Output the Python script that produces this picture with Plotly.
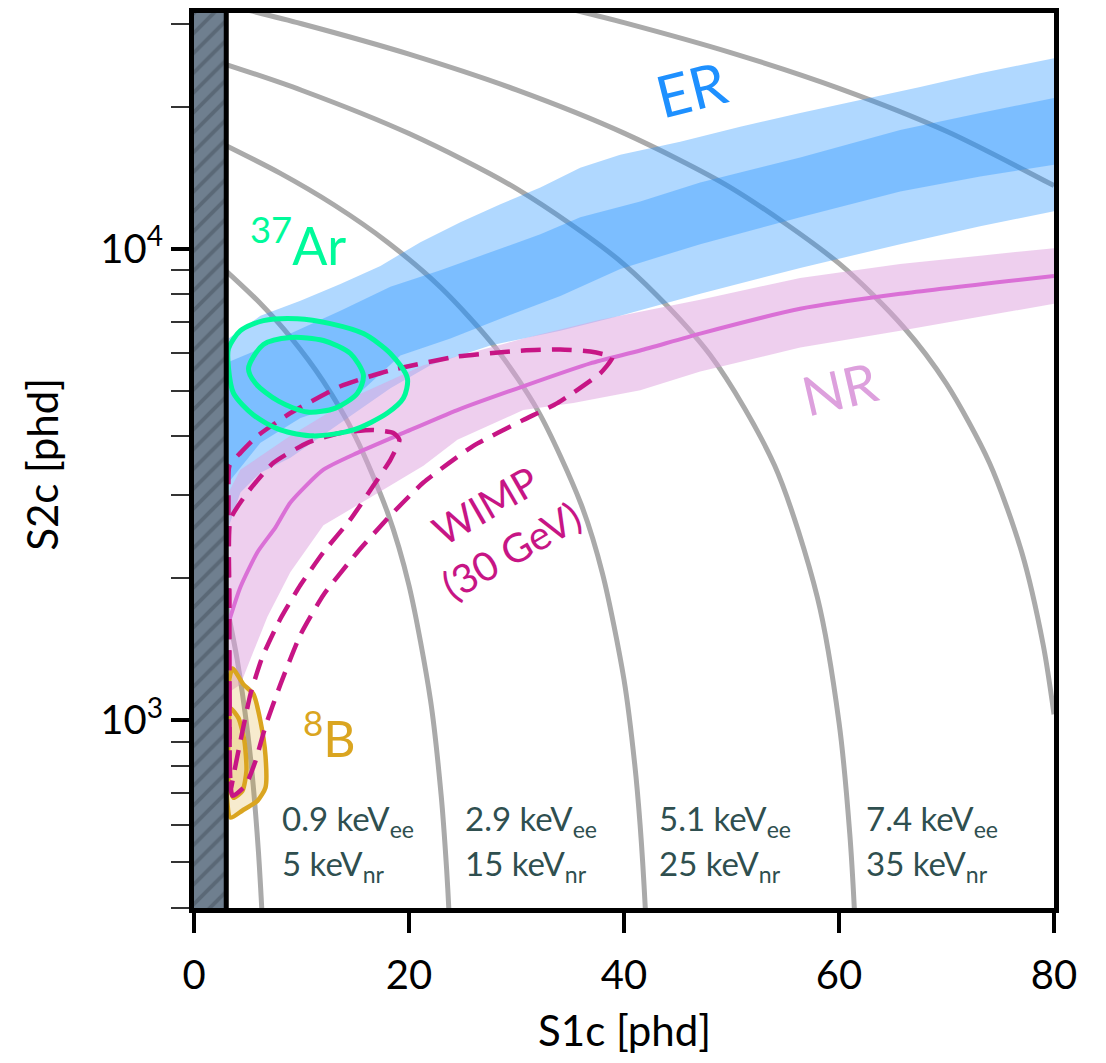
import math
import plotly.graph_objects as go

# ---------------- data ----------------
# constant-energy guide lines (S1c, S2c)
E1_S1 = [3, 4, 5, 5.5, 6, 6.2, 6.3, 6.4]
E1_S2 = [1766, 1352, 938, 731, 524, 441, 400, 358]
E2_S1 = [3, 6, 9, 12, 15, 18, 20, 22, 23, 23.5, 23.7, 24]
E2_S2 = [8970, 7728, 6486, 5244, 4002, 2760, 1932, 1104, 690, 483, 400, 276]
E3_S1 = [3, 8, 13, 18, 23, 28, 32, 36, 38, 40, 41, 41.5, 42, 42.3]
E3_S2 = [16538, 14468, 12398, 10328, 8258, 6188, 4532, 2876, 2048, 1220, 806, 599, 392, 268]
E4_S1 = [3, 10, 20, 30, 40, 48, 54, 58, 60, 61, 61.5, 61.8]
E4_S2 = [24588, 21690, 17550, 13410, 9270, 5958, 3474, 1818, 990, 576, 369, 245]
E5_S1 = [5, 10, 20, 30, 40, 50, 60, 66, 70, 74, 77, 79, 80]
E5_S2 = [32080, 30010, 25870, 21730, 17590, 13450, 9310, 6826, 5170, 3514, 2272, 1444, 1030]
E6_S1 = [35, 40, 50, 60, 70, 80]
E6_S2 = [32240, 30170, 26030, 21890, 17750, 13610]

# ER band: outer (light) and inner (dark)
ER_OUT_UP_S1 = [3.21, 6.18, 9.90, 13.62, 17.34, 21.06, 24.78, 28.50, 32.22, 35.93, 39.65, 45.23, 50.81, 56.39, 61.97, 67.55, 73.13, 80]
ER_OUT_UP_S2 = [6450, 7210, 7755, 8425, 9195, 10330, 11380, 12430, 13490, 14860, 15830, 16870, 18140, 19410, 20680, 22030, 23570, 25350]
ER_OUT_LO_S1 = [3.21, 4.32, 6.18, 8.97, 13.62, 18.27, 21.99, 27.57, 34.08, 39.65, 47.09, 56.39, 65.69, 73.13, 80]
ER_OUT_LO_S2 = [2566, 3041, 3351, 3604, 4272, 5060, 5660, 6235, 6705, 7210, 8025, 9105, 10230, 11160, 12010]
ER_IN_UP_S1 = [3.21, 6.18, 8.97, 13.62, 18.27, 22.92, 27.57, 32.22, 35.93, 41.51, 47.09, 56.39, 65.69, 73.13, 80]
ER_IN_UP_S2 = [5750, 6145, 6610, 7390, 8305, 9010, 9830, 10740, 11660, 12600, 13820, 15610, 17870, 19410, 20870]
ER_IN_LO_S1 = [3.21, 6.18, 9.90, 14.55, 19.20, 23.85, 28.50, 34.08, 39.65, 47.09, 56.39, 65.69, 73.13, 80]
ER_IN_LO_S2 = [3193, 3877, 4376, 4752, 5940, 6450, 7110, 7945, 9065, 10230, 11660, 13230, 14230, 15080]

# NR band and median
NR_UP_S1 = [3.21, 4.32, 8.97, 15.20, 21.34, 30.63, 37.79, 47.09, 56.39, 65.69, 80]
NR_UP_S2 = [3041, 3400, 4011, 4892, 5660, 6450, 7075, 7795, 8675, 9285, 10030]
NR_LO_S1 = [3.21, 3.39, 4.32, 5.53, 6.83, 8.97, 12.04, 18.27, 21.34, 24.50, 30.63, 35.28, 41.51, 47.09, 56.39, 65.69, 80]
NR_LO_S2 = [1152, 1152, 1192, 1399, 1658, 2063, 2591, 3147, 3467, 3934, 4550, 4707, 5012, 5495, 6175, 6705, 7645]
NR_MED_S1 = [3.30, 4.32, 5.90, 7.58, 8.97, 12.04, 15.20, 19.48, 24.50, 30.63, 36.86, 41.51, 47.09, 56.39, 65.69, 80]
NR_MED_S2 = [1634, 1918, 2273, 2566, 2897, 3400, 3692, 4069, 4550, 5110, 5715, 6085, 6610, 7460, 8025, 8760]

# WIMP (30 GeV) contours
WIMP_OUT_S1 = [3.58, 3.30, 3.21, 3.21, 3.30, 4.32, 5.90, 8.97, 13.62, 18.27, 24.50, 30.63, 34.08, 36.86, 38.91, 37.79, 33.80, 30.63, 25.99, 21.34, 18.27, 15.20, 12.04, 9.90, 8.04, 6.65, 5.72, 4.79, 3.58]
WIMP_OUT_S2 = [692, 1098, 1784, 2897, 3467, 3692, 4011, 4484, 5110, 5525, 5910, 6085, 6115, 6055, 5885, 5445, 4707, 4334, 3821, 3193, 2720, 2273, 1845, 1519, 1192, 972, 820, 727, 692]
WIMP_IN_S1 = [3.39, 3.30, 3.30, 3.39, 4.97, 7.39, 10.55, 13.62, 16.69, 18.55, 19.11, 18.27, 16.69, 14.55, 12.04, 9.90, 8.04, 6.37, 5.25, 4.32, 3.67, 3.39]
WIMP_IN_S2 = [709, 1098, 1784, 2667, 3041, 3517, 3877, 4069, 4129, 4069, 3934, 3569, 3147, 2667, 2273, 1936, 1642, 1365, 1136, 904, 763, 709]

# 37Ar contours
AR_OUT_S1 = [3.21, 4.32, 6.46, 9.62, 12.69, 15.76, 18.27, 19.85, 19.48, 17.99, 14.83, 11.11, 8.04, 5.53, 3.67, 3.21, 3.21]
AR_OUT_S2 = [6145, 6705, 7040, 7110, 6940, 6610, 5998, 5315, 4824, 4484, 4129, 4011, 4129, 4440, 4940, 5577, 6145]
AR_IN_S1 = [5.07, 6.46, 8.97, 12.04, 14.55, 15.76, 15.20, 13.16, 10.55, 7.86, 5.72, 5.07]
AR_IN_S2 = [5577, 6265, 6483, 6390, 5998, 5390, 4940, 4594, 4506, 4752, 5185, 5577]

# 8B contours
B8_OUT_S1 = [3.58, 4.60, 5.53, 6.18, 6.65, 6.65, 5.90, 4.51, 3.39, 3.02, 3.02, 3.11, 3.58]
B8_OUT_S2 = [1288, 1192, 1136, 996, 841, 720, 675, 644, 622, 709, 904, 1152, 1288]
B8_IN_S1 = [3.39, 4.14, 4.69, 4.88, 4.51, 3.67, 3.21, 3.21, 3.39]
B8_IN_S2 = [1061, 1011, 904, 782, 709, 685, 744, 926, 1061]

# threshold region
THRESH_S1 = 3.0

# energy labels
EE_LABELS = ["0.9", "2.9", "5.1", "7.4"]
NR_LABELS = ["5", "15", "25", "35"]
LABEL_S1 = [8.04, 25.06, 43.09, 62.34]
LABEL_ROW1_S2 = 612
LABEL_ROW2_S2 = 492

X_TICKS = [0, 20, 40, 60, 80]
Y_TICKS = [1000, 10000]
Y_TICKTEXT = ["10<sup>3</sup>", "10<sup>4</sup>"]
Y_MINOR = [400, 500, 600, 700, 800, 900, 2000, 3000, 4000, 5000, 6000, 7000, 8000, 9000, 20000, 30000]
Y_RANGE = [400, 31623]

FONT = "Lato"

fig = go.Figure()

# energy guide lines
for xs, ys in [(E1_S1, E1_S2), (E2_S1, E2_S2), (E3_S1, E3_S2),
               (E4_S1, E4_S2), (E5_S1, E5_S2), (E6_S1, E6_S2)]:
    fig.add_trace(go.Scatter(x=xs, y=ys, mode="lines",
                             line=dict(color="#aaaaaa", width=5, shape="spline", smoothing=0.8),
                             hoverinfo="skip", showlegend=False))


def band(up_x, up_y, lo_x, lo_y, color):
    fig.add_trace(go.Scatter(x=up_x + lo_x[::-1], y=up_y + lo_y[::-1],
                             mode="lines", fill="toself", fillcolor=color,
                             line=dict(width=0, color=color), hoverinfo="skip",
                             showlegend=False))


band(ER_OUT_UP_S1, ER_OUT_UP_S2, ER_OUT_LO_S1, ER_OUT_LO_S2, "rgba(30,144,255,0.35)")
band(ER_IN_UP_S1, ER_IN_UP_S2, ER_IN_LO_S1, ER_IN_LO_S2, "rgba(30,144,255,0.35)")
band(NR_UP_S1, NR_UP_S2, NR_LO_S1, NR_LO_S2, "rgba(221,160,221,0.5)")

fig.add_trace(go.Scatter(x=NR_MED_S1, y=NR_MED_S2, mode="lines",
                         line=dict(color="#da70d6", width=4, shape="spline", smoothing=0.6),
                         hoverinfo="skip", showlegend=False))

# 8B
fig.add_trace(go.Scatter(x=B8_OUT_S1, y=B8_OUT_S2, mode="lines", fill="toself",
                         fillcolor="rgba(218,165,32,0.22)",
                         line=dict(color="#daa520", width=4.5, shape="spline", smoothing=0.6),
                         hoverinfo="skip", showlegend=False))
fig.add_trace(go.Scatter(x=B8_IN_S1, y=B8_IN_S2, mode="lines", fill="toself",
                         fillcolor="rgba(218,165,32,0.22)",
                         line=dict(color="#daa520", width=4.5, shape="spline", smoothing=0.6),
                         hoverinfo="skip", showlegend=False))

# WIMP contours
for xs, ys in [(WIMP_OUT_S1, WIMP_OUT_S2), (WIMP_IN_S1, WIMP_IN_S2)]:
    fig.add_trace(go.Scatter(x=xs, y=ys, mode="lines",
                             line=dict(color="#c71585", width=4.5, dash="20px,11px",
                                       shape="spline", smoothing=0.5),
                             hoverinfo="skip", showlegend=False))

# 37Ar contours
for xs, ys in [(AR_OUT_S1, AR_OUT_S2), (AR_IN_S1, AR_IN_S2)]:
    fig.add_trace(go.Scatter(x=xs, y=ys, mode="lines",
                             line=dict(color="#00fa9a", width=5, shape="spline", smoothing=0.8),
                             hoverinfo="skip", showlegend=False))

# threshold hatched region
fig.add_trace(go.Scatter(x=[0, THRESH_S1, THRESH_S1, 0, 0],
                         y=[300, 300, 40000, 40000, 300],
                         mode="lines", fill="toself", fillcolor="#708090",
                         fillpattern=dict(shape="/", bgcolor="#6f7f8f", fgcolor="#46525e",
                                          size=14, solidity=0.28),
                         line=dict(width=0, color="#708090"),
                         hoverinfo="skip", showlegend=False))

fig.add_shape(type="line", xref="x", yref="paper", x0=THRESH_S1, x1=THRESH_S1,
              y0=0, y1=1, line=dict(color="black", width=5), layer="above")

L = math.log10
ann = []
ann.append(dict(x=46.2, y=L(21920), text="ER", textangle=-14,
                font=dict(family=FONT, size=58, color="#1e90ff")))
ann.append(dict(x=60.0, y=L(5060), text="NR", textangle=-13,
                font=dict(family=FONT, size=54, color="#dda0dd")))
ann.append(dict(x=28.3, y=L(2560), text="WIMP<br>(30 GeV)", textangle=-30,
                font=dict(family=FONT, size=40, color="#c71585")))
ann.append(dict(x=9.72, y=L(10380), text="<sup>37</sup>Ar",
                font=dict(family=FONT, size=52, color="#00fa9a")))
ann.append(dict(x=12.6, y=L(931), text="<sup>8</sup>B",
                font=dict(family=FONT, size=50, color="#daa520")))
for ee, nr, xs in zip(EE_LABELS, NR_LABELS, LABEL_S1):
    ann.append(dict(x=xs, y=L(LABEL_ROW1_S2), text=f"{ee} keV<sub>ee</sub>",
                    xanchor="left", font=dict(family=FONT, size=33, color="#2f4f4f")))
    ann.append(dict(x=xs, y=L(LABEL_ROW2_S2), text=f"{nr} keV<sub>nr</sub>",
                    xanchor="left", font=dict(family=FONT, size=33, color="#2f4f4f")))
for a in ann:
    a.update(xref="x", yref="y", showarrow=False)
    a.setdefault("xanchor", "center")
    a.setdefault("yanchor", "middle")

ann.append(dict(xref="paper", yref="paper", x=0.5, y=-0.136, text="S1c [phd]",
                showarrow=False, xanchor="center", yanchor="middle",
                font=dict(family=FONT, size=42, color="black")))
ann.append(dict(xref="paper", yref="paper", x=-0.177, y=0.496, text="S2c [phd]",
                showarrow=False, xanchor="center", yanchor="middle", textangle=-90,
                font=dict(family=FONT, size=42, color="black")))

fig.update_layout(
    width=1106, height=1063,
    margin=dict(l=194, r=52, t=8, b=155),
    paper_bgcolor="white", plot_bgcolor="white",
    annotations=ann,
    showlegend=False,
    font=dict(family=FONT, color="black"),
)
fig.update_xaxes(range=[0, 80], tickvals=X_TICKS, ticks="outside", ticklen=20, tickwidth=4,
                 tickcolor="black", showline=True, linewidth=5, linecolor="black", mirror=True,
                 showgrid=False, zeroline=False, tickfont=dict(family=FONT, size=40),
                 ticklabelstandoff=8)
fig.update_yaxes(type="log", range=[L(Y_RANGE[0]), L(Y_RANGE[1])], tickvals=Y_TICKS,
                 ticktext=Y_TICKTEXT, ticks="outside", ticklen=18, tickwidth=4,
                 tickcolor="black", showline=True, linewidth=5, linecolor="black", mirror=True,
                 showgrid=False, zeroline=False, tickfont=dict(family=FONT, size=40),
                 minor=dict(tickvals=Y_MINOR, ticks="outside", ticklen=18, tickwidth=1.5,
                            tickcolor="#333333", showgrid=False))

fig.write_html("out.html")
